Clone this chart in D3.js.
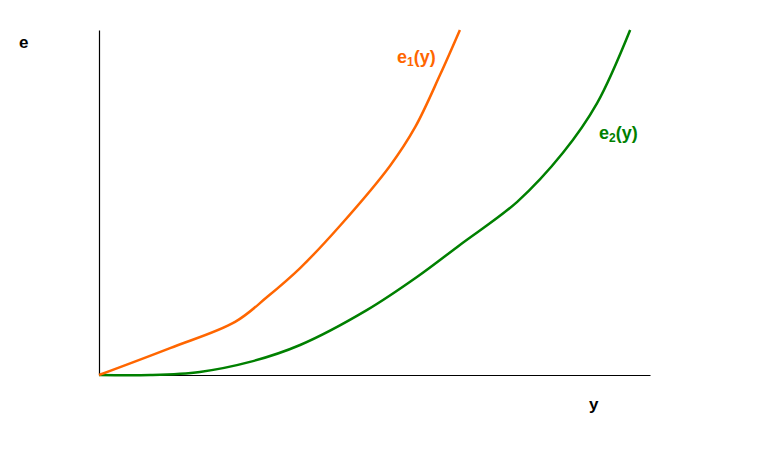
<!DOCTYPE html>
<html>
<head>
<meta charset="utf-8">
<script src="https://cdn.jsdelivr.net/npm/d3@7"></script>
<style>
body { margin: 0; background: #fff; }
text { font-family: "Liberation Sans", Arial, sans-serif; font-weight: bold; }
</style>
</head>
<body>
<svg width="779" height="465"></svg>
<script>
// curve e1(y)
var e1X = [0, 12.9, 24.7, 30.5, 36.5, 43.7, 52.8, 57.4, 61.9, 65.5];
var e1Y = [0, 7.8, 15.4, 22.6, 31.0, 43.2, 60.6, 71.9, 87.0, 100];
// curve e2(y)
var e2X = [0, 9.3, 18.3, 27.4, 36.5, 48.6, 57.7, 65.5, 75.9, 84.2, 90.4, 96.4];
var e2Y = [0, 0, 0.9, 3.8, 8.7, 18.8, 28.4, 37.7, 50.2, 64.4, 78.8, 100];

var svg = d3.select("svg");

var x = d3.scaleLinear().domain([0, 100]).range([99, 650]);
var y = d3.scaleLinear().domain([0, 100]).range([375, 30]);

// axes (no ticks)
svg.append("g")
	.attr("transform", "translate(0,375)")
	.call(d3.axisBottom(x).ticks(0).tickSizeOuter(0))
	.select(".domain").attr("stroke", "#000").attr("stroke-width", 1.2);
svg.append("g")
	.attr("transform", "translate(99,0)")
	.call(d3.axisLeft(y).ticks(0).tickSizeOuter(0))
	.select(".domain").attr("stroke", "#000").attr("stroke-width", 1.2);

var line = d3.line()
	.x(function(d) { return x(d[0]); })
	.y(function(d) { return y(d[1]); })
	.curve(d3.curveCatmullRom.alpha(0.5));

svg.append("path")
	.datum(d3.zip(e2X, e2Y))
	.attr("fill", "none")
	.attr("stroke", "#008000")
	.attr("stroke-width", 2.5)
	.attr("d", line);

svg.append("path")
	.datum(d3.zip(e1X, e1Y))
	.attr("fill", "none")
	.attr("stroke", "#ff6600")
	.attr("stroke-width", 2.5)
	.attr("d", line);

// axis names
svg.append("text").attr("x", 19).attr("y", 48).style("font-size", "17px").text("e");
svg.append("text").attr("x", 589).attr("y", 410).style("font-size", "17px").text("y");

// curve labels
var l1 = svg.append("text").attr("x", 397).attr("y", 63).attr("fill", "#ff6600").style("font-size", "18px");
l1.append("tspan").text("e");
l1.append("tspan").attr("dy", 3).style("font-size", "12px").text("1");
l1.append("tspan").attr("dy", -3).text("(y)");

var l2 = svg.append("text").attr("x", 599).attr("y", 139).attr("fill", "#008000").style("font-size", "18px");
l2.append("tspan").text("e");
l2.append("tspan").attr("dy", 3).style("font-size", "12px").text("2");
l2.append("tspan").attr("dy", -3).text("(y)");
</script>
</body>
</html>
